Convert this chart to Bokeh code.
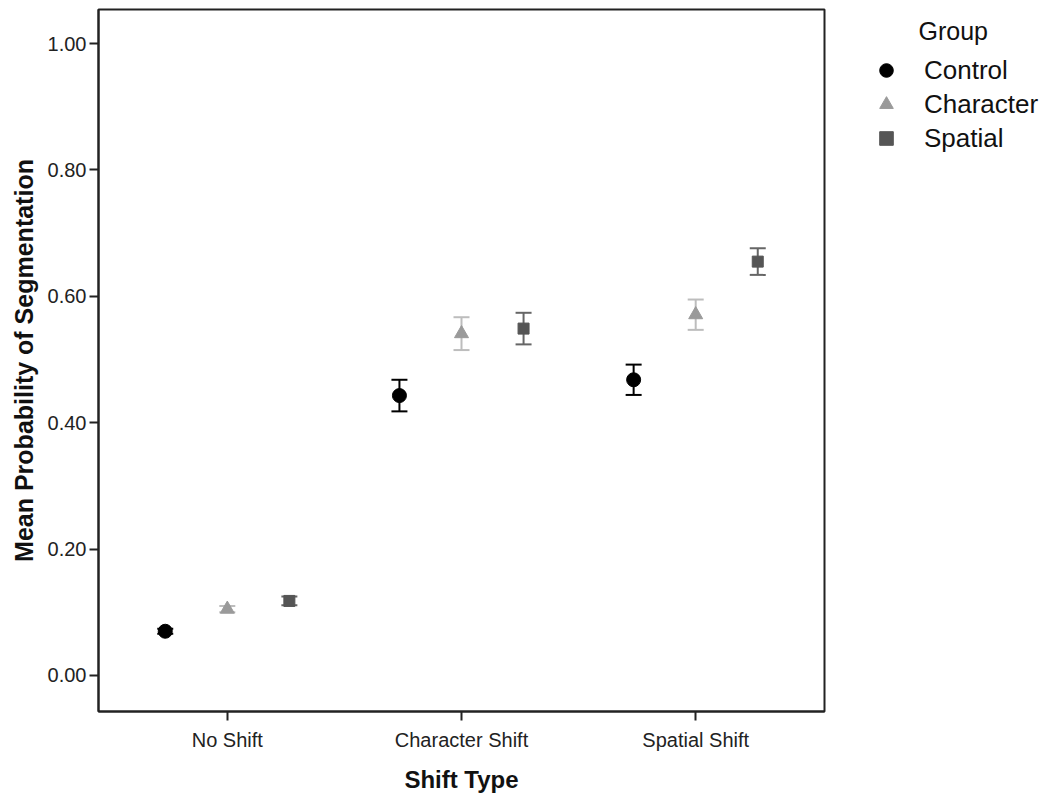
from bokeh.plotting import figure
from bokeh.layouts import row
from bokeh.models import (FactorRange, Range1d, ColumnDataSource, Legend, LegendItem,
                          FixedTicker, NumeralTickFormatter, Label)
from bokeh.transform import dodge
from bokeh.embed import file_html
from bokeh.resources import INLINE

# ---- data ----
shifts = ["No Shift", "Character Shift", "Spatial Shift"]
groups = ["Control", "Character", "Spatial"]
control_mean = [0.070, 0.443, 0.468]
control_err = [0.004, 0.025, 0.024]
character_mean = [0.105, 0.541, 0.571]
character_err = [0.005, 0.026, 0.024]
spatial_mean = [0.118, 0.549, 0.655]
spatial_err = [0.007, 0.025, 0.021]
y_ticks = [0.0, 0.2, 0.4, 0.6, 0.8, 1.0]

FONT = "Liberation Sans"

p = figure(width=826, height=800, output_backend="svg", toolbar_location=None,
           x_range=FactorRange(factors=shifts, range_padding=0.05, range_padding_units="absolute"),
           y_range=Range1d(-0.057, 1.054))
p.min_border_left = 98
p.min_border_right = 2
p.min_border_top = 9
p.min_border_bottom = 89
p.background_fill_color = "white"
p.border_fill_color = "white"
p.outline_line_color = "#222222"
p.outline_line_width = 2
p.xgrid.visible = False
p.ygrid.visible = False

series = [
    ("Control", control_mean, control_err, -0.265, "circle", "#000000", "#000000", 14),
    ("Character", character_mean, character_err, 0.0, "triangle", "#9a9a9a", "#bdbdbd", 14),
    ("Spatial", spatial_mean, spatial_err, 0.265, "square", "#555555", "#666666", 11),
]

# legend figure (to the right of the plot frame)
lg = figure(width=224, height=800, output_backend="svg", toolbar_location=None,
            x_range=Range1d(0, 1), y_range=Range1d(0, 1),
            x_axis_type=None, y_axis_type=None)
lg.min_border_left = 0
lg.min_border_right = 0
lg.min_border_top = 9
lg.min_border_bottom = 89
lg.outline_line_color = None
lg.xgrid.visible = False
lg.ygrid.visible = False
lg.background_fill_color = "white"
lg.border_fill_color = "white"

legend_renderers = {}
for name, mean, err, off, marker, col, ecol, size in series:
    lo = [m - e for m, e in zip(mean, err)]
    hi = [m + e for m, e in zip(mean, err)]
    src = ColumnDataSource(dict(shift=shifts, mean=mean, lo=lo, hi=hi))
    xs = dodge("shift", off, range=p.x_range)
    p.segment(x0=xs, y0="lo", x1=xs, y1="hi", source=src, line_color=ecol, line_width=2)
    p.scatter(x=xs, y="lo", source=src, marker="dash", size=16, line_color=ecol, line_width=2)
    p.scatter(x=xs, y="hi", source=src, marker="dash", size=16, line_color=ecol, line_width=2)
    p.scatter(x=xs, y="mean", source=src, marker=marker, size=size,
              fill_color=col, line_color=col)
    # legend swatch renderer (a NaN point, never drawn; used only for the legend glyph)
    legend_renderers[name] = lg.scatter(x=[float("nan")], y=[float("nan")], marker=marker,
                                        size=size, fill_color=col, line_color=col)

legend = Legend(items=[LegendItem(label=g, renderers=[legend_renderers[g]]) for g in groups],
                location=(43, 556))
legend.border_line_color = None
legend.background_fill_alpha = 0
legend.margin = 0
legend.padding = 0
legend.spacing = 0
legend.glyph_width = 34
legend.glyph_height = 34
legend.label_standoff = 21
legend.label_text_font = FONT
legend.label_text_font_size = "26px"
legend.label_text_color = "#111111"
legend.label_height = 34
lg.add_layout(legend)

lg.add_layout(Label(x=92, y=681, x_units="screen", y_units="screen", text="Group",
                    text_font=FONT, text_font_size="25px", text_color="#111111",
                    text_baseline="middle"))

# ---- axes ----
for ax in (p.xaxis[0], p.yaxis[0]):
    ax.axis_line_color = "#222222"
    ax.axis_line_width = 2
    ax.major_tick_line_color = "#222222"
    ax.major_tick_line_width = 2
    ax.major_tick_in = 0
    ax.major_tick_out = 9
    ax.minor_tick_line_color = None
    ax.major_label_text_font = FONT
    ax.major_label_text_font_size = "20px"
    ax.major_label_text_color = "#222222"
    ax.axis_label_text_font = FONT
    ax.axis_label_text_font_size = "24px"
    ax.axis_label_text_font_style = "bold"
    ax.axis_label_text_color = "#111111"

p.yaxis.ticker = FixedTicker(ticks=y_ticks)
p.yaxis.formatter = NumeralTickFormatter(format="0.00")
p.yaxis.axis_label = "Mean Probability of Segmentation"
p.yaxis.axis_label_text_font_size = "25px"
p.yaxis.major_label_standoff = 3
p.yaxis.axis_label_standoff = 7
p.xaxis.axis_label = "Shift Type"
p.xaxis.major_label_standoff = 8
p.xaxis.axis_label_standoff = 12

layout = row(p, lg, spacing=0)
open("out.html", "w").write(file_html(layout, INLINE))
